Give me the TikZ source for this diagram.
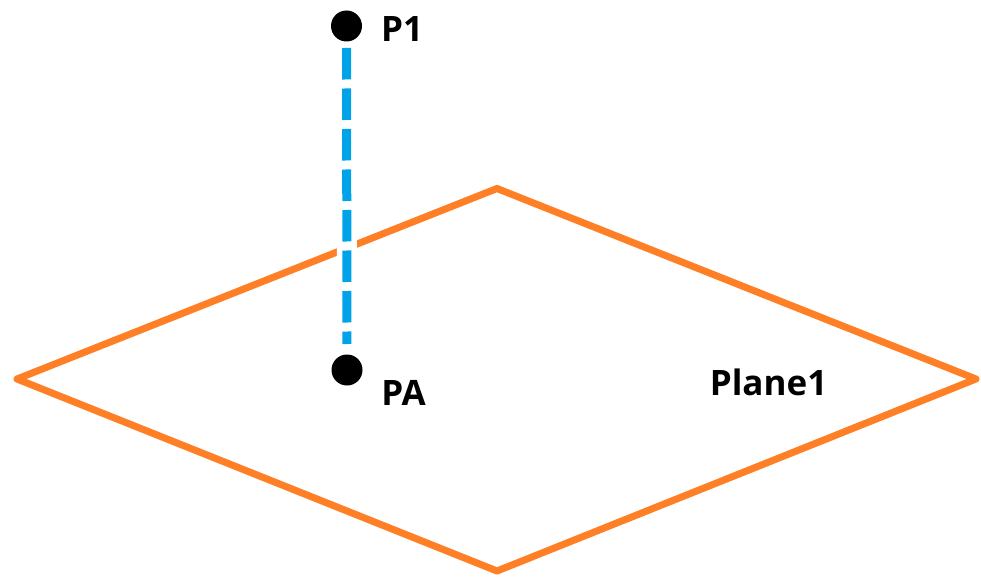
\documentclass[tikz,border=0pt]{standalone}
\usepackage{fontspec}
\setmainfont{Open Sans}
\definecolor{planeorange}{HTML}{FF7F27}
\definecolor{lineblue}{HTML}{00A2E8}
\begin{document}
\begin{tikzpicture}[x=1pt,y=-1pt,
  planeedge/.style={draw=planeorange, line width=7pt, line join=round},
  dropline/.style={draw=lineblue, line width=9pt, dash pattern=on 31.5pt off 9pt,
    preaction={draw=white, line width=20pt, solid}},
  ptdot/.style={fill=black},
  lbl/.style={font=\fontsize{35}{40}\selectfont\bfseries, anchor=base, inner sep=0pt}]
\useasboundingbox[fill=white] (0,0) rectangle (981,577);
\coordinate (L) at (17,379);
\coordinate (T) at (497,188.5);
\coordinate (R) at (976,379);
\coordinate (B) at (497,571);
\coordinate (P1) at (346.5,26);
\coordinate (PA) at (347,370);
\draw[planeedge] (L) -- (T) -- (R) -- (B) -- cycle;
\draw[dropline, shorten <=22pt, shorten >=26pt] (P1) -- (PA);
\fill[ptdot] (P1) circle[radius=15.5pt];
\fill[ptdot] (PA) circle[radius=15.5pt];
\node[lbl] (lP1) at (402,42) {P1};
\node[lbl] (lPA) at (403.5,405) {PA};
\node[lbl] (lPl) at (768.5,395) {Plane1};
\end{tikzpicture}
\end{document}
